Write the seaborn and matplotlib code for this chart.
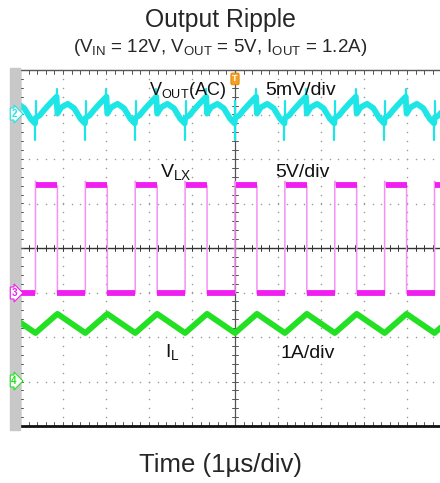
import numpy as np
import pandas as pd
import matplotlib.pyplot as plt
from matplotlib.patches import Rectangle
import seaborn as sns

# scope settings
period_us = 1.16          # switching period
on_time_us = 0.51         # LX high time
cycles = list(range(-5, 5))

# one switching cycle, phase in us measured from the LX rising edge
vout_phase = [0.0, 0.1, 0.2, 0.35, 0.49, 0.51, 0.6, 0.75, 0.9, 1.05, 1.15]
vout_mv = [-0.4, -0.1, 0.5, 1.3, 2.0, 0.1, 0.8, 1.2, 0.7, -0.5, -1.0]
vout_spike_phase = [0.49, 1.15, 0.01]
vout_spike_mv = [2.9, -2.9, 1.5]

vlx_phase = [0.0, 0.0, 0.03, 0.51, 0.51, 1.16]
vlx_v = [-0.1, 12.5, 12.1, 12.0, -0.1, -0.1]

il_phase = [0.0, 0.51]
il_a = [1.09, 1.52]

# channel offset (div) and scale (unit/div)
ch_offset = {'vout': 3.0, 'vlx': -1.0, 'il': -3.0}
ch_scale = {'vout': 5.0, 'vlx': 5.0, 'il': 1.0}

CYAN = '#1EE6E6'
MAGENTA = '#F01EF0'
GREEN = '#22E022'


def tile(phase, vals, key):
  t, y = [], []
  for k in cycles:
    for p, v in zip(phase, vals):
      t.append(k * period_us + p)
      y.append(ch_offset[key] + v / ch_scale[key])
  return pd.DataFrame({'t': t, 'y': y})


sns.set_style('white')
plt.rcParams['font.family'] = ['Liberation Sans', 'DejaVu Sans']
plt.rcParams['mathtext.fontset'] = 'custom'
plt.rcParams['mathtext.rm'] = 'Liberation Sans'

fig = plt.figure(figsize=(4.4, 4.83), dpi=100)
W, H = 440, 483
ax = fig.add_axes([20 / W, 57 / H, 430 / W, 356 / H])
ax.set_xlim(-5, 5)
ax.set_ylim(-4, 4)

# gray bar at the left of the screen
fig.patches.append(Rectangle((10 / W, 53 / H), 10 / W, 362 / H,
                             transform=fig.transFigure, color='#C8C8C8', zorder=0))

# dotted graticule
for gx in range(-5, 6):
  yy = np.arange(-4, 4.01, 0.2)
  ax.scatter(np.full(len(yy), gx), yy, s=1.2, color='#9A9A9A', lw=0, zorder=1)
for gy in range(-4, 5):
  xx = np.arange(-5, 5.01, 0.2)
  ax.scatter(xx, np.full(len(xx), gy), s=1.2, color='#9A9A9A', lw=0, zorder=1)

# centre cross with minor ticks
ax.axhline(0, color='#333333', lw=1.0, zorder=2)
ax.axvline(0, color='#555555', lw=0.9, zorder=2)
for v in np.arange(-5, 5.01, 0.2):
  ax.plot([v, v], [-0.07, 0.07], color='#333333', lw=0.7, zorder=2)
  ax.plot([v, v], [4, 3.9], color='#555555', lw=0.7, zorder=2)
  ax.plot([v, v], [-4, -3.9], color='#555555', lw=0.7, zorder=2)
for v in np.arange(-4, 4.01, 0.2):
  ax.plot([-0.07, 0.07], [v, v], color='#555555', lw=0.7, zorder=2)
  ax.plot([-5, -4.92], [v, v], color='#555555', lw=0.7, zorder=2)

# traces
vout = tile(vout_phase, vout_mv, 'vout')
sns.lineplot(data=vout, x='t', y='y', sort=False, estimator=None, color=CYAN,
             lw=4.2, ax=ax, zorder=4)
for k in cycles:
  for p, s in zip(vout_spike_phase, vout_spike_mv):
    base = np.interp(p, vout_phase, vout_mv)
    ax.plot([k * period_us + p] * 2,
            [ch_offset['vout'] + base / 5, ch_offset['vout'] + s / 5],
            color=CYAN, lw=1.6, zorder=4)

vlx = tile(vlx_phase, vlx_v, 'vlx')
sns.lineplot(data=vlx, x='t', y='y', sort=False, estimator=None, color='#F590F5',
             lw=1.1, ax=ax, zorder=3)
for k in cycles:
  t0 = k * period_us
  ax.plot([t0 + 0.02, t0 + on_time_us], [ch_offset['vlx'] + vlx_v[2] / 5] * 2,
          color=MAGENTA, lw=4.2, solid_capstyle='butt', zorder=3)
  ax.plot([t0 + on_time_us, t0 + period_us], [ch_offset['vlx'] + vlx_v[-1] / 5] * 2,
          color=MAGENTA, lw=4.2, solid_capstyle='butt', zorder=3)

il = tile(il_phase, il_a, 'il')
sns.lineplot(data=il, x='t', y='y', sort=False, estimator=None, color=GREEN,
             lw=4.2, ax=ax, zorder=4)

ax.set_xlabel('')
ax.set_ylabel('')
ax.set_xticks([])
ax.set_yticks([])
for side in ['top', 'left', 'right']:
  ax.spines[side].set_color('#555555')
  ax.spines[side].set_linewidth(1.0)
ax.spines['bottom'].set_color('#111111')
ax.spines['bottom'].set_linewidth(2.0)

# channel labels
lab = dict(color='#111111', zorder=6, va='center')
ax.text(-2.0, 3.55, r'V$_{\rm OUT}$(AC)', fontsize=13, **lab)
ax.text(0.70, 3.55, '5mV/div', fontsize=14, **lab)
ax.text(-1.74, 1.69, r'V$_{\rm LX}$', fontsize=14, **lab)
ax.text(0.93, 1.69, '5V/div', fontsize=14, **lab)
ax.text(-1.63, -2.36, r'I$_{\rm L}$', fontsize=14, **lab)
ax.text(1.05, -2.36, '1A/div', fontsize=14, **lab)

# channel ground markers
for num, yy, col in [('2', 114, CYAN), ('3', 293, MAGENTA), ('4', 381, GREEN)]:
  fig.text(14 / W, 1 - yy / H, num, ha='center', va='center', fontsize=7,
           color=col, fontweight='bold',
           bbox=dict(boxstyle='rarrow,pad=0.1', fc='white', ec=col, lw=0.8))

# trigger marker
ax.text(0, 3.8, 'T', ha='center', va='center', fontsize=6.5, color='white',
        fontweight='bold', zorder=7,
        bbox=dict(boxstyle='round,pad=0.15', fc='#F5A020', ec='#E08000', lw=0.6))

fig.text(0.5, 1 - 20 / H, 'Output Ripple', ha='center', va='center', fontsize=17.8)
fig.text(0.5, 1 - 48 / H,
         r'(V$_{\rm IN}$ = 12V, V$_{\rm OUT}$ = 5V, I$_{\rm OUT}$ = 1.2A)',
         ha='center', va='center', fontsize=13.5)
fig.text(0.5, 1 - 465 / H, 'Time (1µs/div)', ha='center', va='center', fontsize=18.5)

fig.savefig('out.png', dpi=100)
